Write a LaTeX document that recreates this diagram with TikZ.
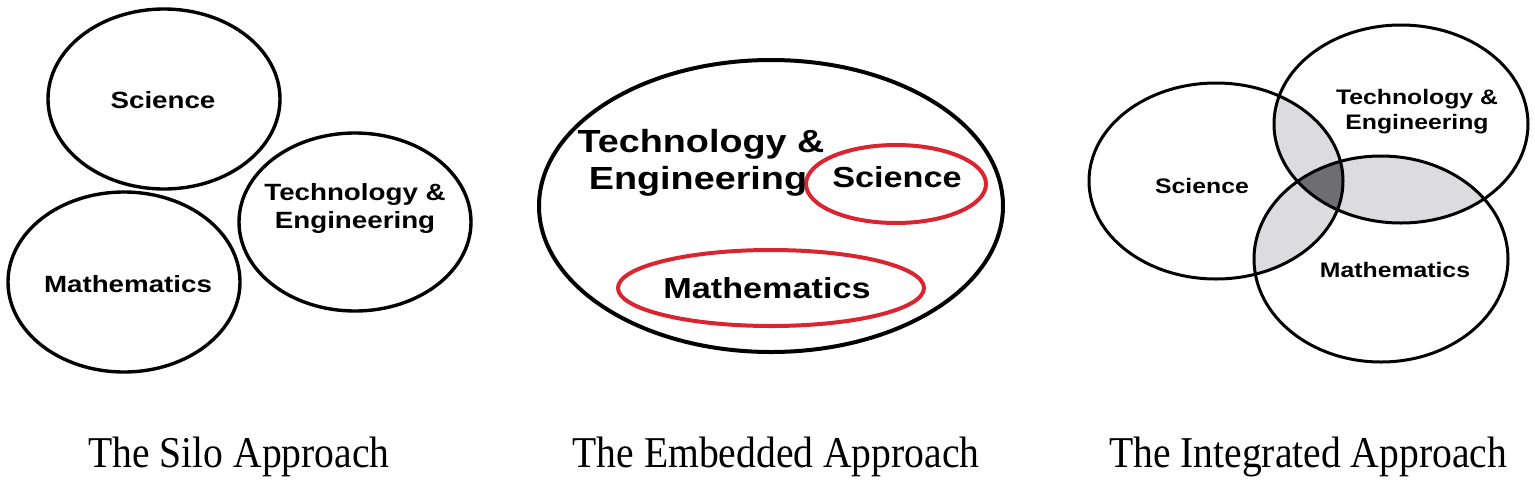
\documentclass[tikz,border=0pt]{standalone}
\usepackage{fontspec}
\newfontfamily\labfont[FakeStretch=1.18]{Liberation Sans}
\newfontfamily\capfont[FakeStretch=0.9]{Liberation Serif}
\definecolor{emred}{HTML}{DA2530}
\definecolor{lgray}{HTML}{DCDCDE}
\definecolor{dgray}{HTML}{6E6E70}
\tikzset{
  ring/.style={line width=3.4pt, draw=black},
  redring/.style={line width=4pt, draw=emred},
  lab/.style={inner sep=0pt, anchor=base, font=\labfont\bfseries\fontsize{#1}{#1}\selectfont},
  capt/.style={inner sep=0pt, anchor=base, font=\capfont\fontsize{44}{44}\selectfont}
}
\begin{document}
\begin{tikzpicture}[x=1pt,y=-1pt]
\useasboundingbox (0,0) rectangle (1535,483);
% ---- Silo ----
\draw[ring] (164,99) ellipse [x radius=116, y radius=90];
\draw[ring] (124,282) ellipse [x radius=116, y radius=90];
\draw[ring] (355,222) ellipse [x radius=116, y radius=89];
\node[lab=23.5] (sS) at (163,108) {Science};
\node[lab=23.5] (sM) at (128,292) {Mathematics};
\node[lab=23.5] (sT) at (355,200) {Technology \&};
\node[lab=23.5] (sE) at (355,228) {Engineering};
% ---- Embedded ----
\draw[ring, line width=4pt] (771,206) ellipse [x radius=232, y radius=146];
\draw[redring] (896,184) ellipse [x radius=90, y radius=39];
\draw[redring] (771,288) ellipse [x radius=153, y radius=38];
\node[lab=32] (eT) at (701,152) {Technology \&};
\node[lab=32] (eE) at (698,189) {Engineering};
\node[lab=29] (eS) at (897,187) {Science};
\node[lab=29] (eM) at (767,298) {Mathematics};
% ---- Integrated ----
\begin{scope}
  \clip (1216,181) ellipse [x radius=127, y radius=98];
  \fill[lgray] (1401,124) ellipse [x radius=127, y radius=99];
  \fill[lgray] (1381,259) ellipse [x radius=127, y radius=103];
\end{scope}
\begin{scope}
  \clip (1401,124) ellipse [x radius=127, y radius=99];
  \fill[lgray] (1381,259) ellipse [x radius=127, y radius=103];
\end{scope}
\begin{scope}
  \clip (1216,181) ellipse [x radius=127, y radius=98];
  \clip (1401,124) ellipse [x radius=127, y radius=99];
  \fill[dgray] (1381,259) ellipse [x radius=127, y radius=103];
\end{scope}
\draw[ring, line width=3pt] (1216,181) ellipse [x radius=127, y radius=98];
\draw[ring, line width=3pt] (1401,124) ellipse [x radius=127, y radius=99];
\draw[ring, line width=3pt] (1381,259) ellipse [x radius=127, y radius=103];
\node[lab=21] (iS) at (1202,193) {Science};
\node[lab=21] (iT) at (1417,104) {Technology \&};
\node[lab=21] (iE) at (1417,129) {Engineering};
\node[lab=21] (iM) at (1395,277) {Mathematics};
% ---- Captions ----
\node[capt] (c1) at (239,467) {The Silo Approach};
\node[capt] (c2) at (776,467) {The Embedded Approach};
\node[capt] (c3) at (1308,467) {The Integrated Approach};
\end{tikzpicture}
\end{document}
